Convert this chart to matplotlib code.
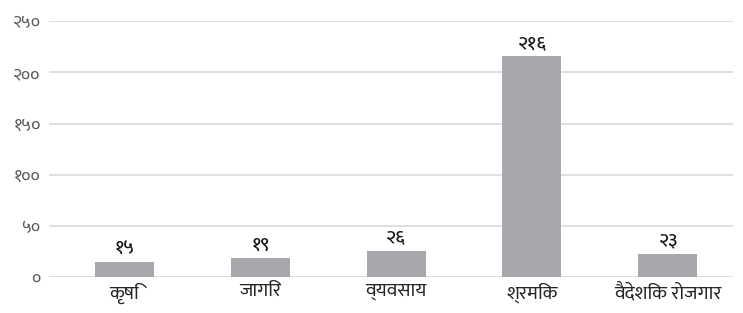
import matplotlib
matplotlib.use("Agg")
import matplotlib.pyplot as plt
from matplotlib import font_manager

categories = ["कृषि", "जागिर", "व्यवसाय", "श्रमिक", "वैदेशिक रोजगार"]
values = [15, 19, 26, 216, 23]
yticks = [0, 50, 100, 150, 200, 250]

NEPALI_DIGITS = str.maketrans("0123456789", "०१२३४५६७८९")


def to_nepali(n):
    return str(n).translate(NEPALI_DIGITS)


# pick the first installed Devanagari family from a preference list
installed = {f.name for f in font_manager.fontManager.ttflist}
preferred = ["Mukta", "Hind", "FreeSans"]
dev_font = next((n for n in preferred if n in installed), "FreeSans")
plt.rcParams["font.family"] = [dev_font, "DejaVu Sans"]

fig = plt.figure(figsize=(7.43, 3.13), dpi=100)
ax = fig.add_axes([0.066, 0.114, 0.9205, 0.819])

x = range(len(categories))
bars = ax.bar(x, values, width=0.434, color="#a7a8ac", zorder=2)

for b, v in zip(bars, values):
    ax.text(b.get_x() + b.get_width() / 2, v + 4, to_nepali(v),
            ha="center", va="bottom", fontsize=14, fontweight="medium",
            color="#1a1a1a")

ax.set_xlim(-0.555, 4.48)
ax.set_ylim(0, 250)
ax.set_yticks(yticks)
ax.set_yticklabels([to_nepali(t) for t in yticks], fontsize=13, color="#595959")
ax.set_xticks(list(x))
ax.set_xticklabels(categories, fontsize=14, color="#262626")
ax.tick_params(length=0)
ax.tick_params(axis="y", pad=6)
ax.tick_params(axis="x", pad=4)
ax.grid(axis="y", color="#d9d9d9", linewidth=1.2, zorder=0)
for s in ax.spines.values():
    s.set_visible(False)

fig.savefig("out.png", dpi=100)
